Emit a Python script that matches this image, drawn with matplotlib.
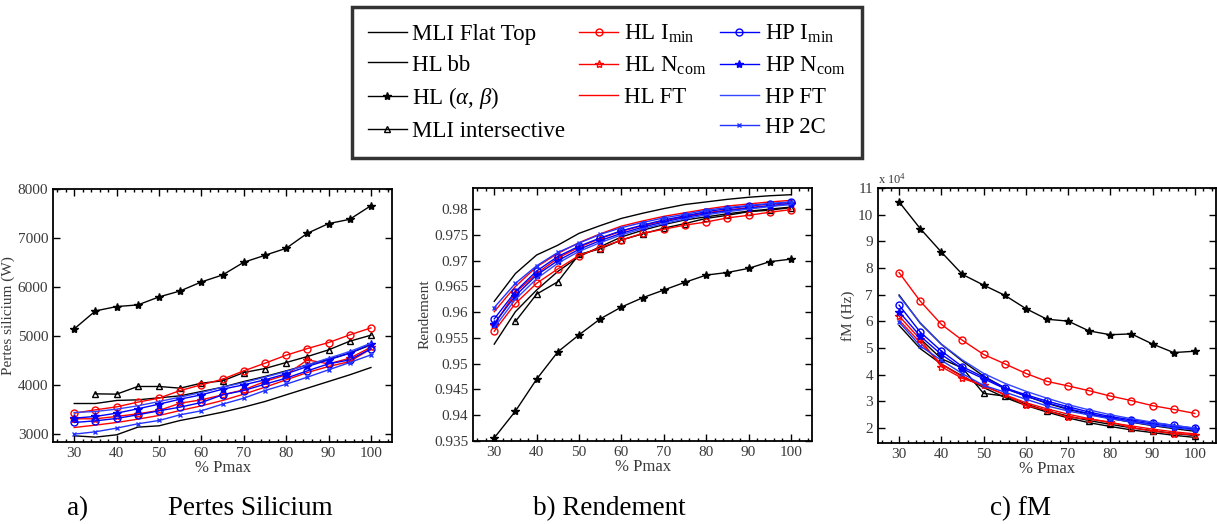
import matplotlib
matplotlib.use("Agg")
import matplotlib.pyplot as plt
from matplotlib.lines import Line2D
from matplotlib.ticker import MultipleLocator, FuncFormatter

plt.rcParams['font.family'] = ['Liberation Serif', 'DejaVu Serif']
plt.rcParams['mathtext.fontset'] = 'custom'
plt.rcParams['mathtext.rm'] = 'Liberation Serif'
plt.rcParams['mathtext.it'] = 'Liberation Serif:italic'

# ---------------------------------------------------------------- data
pmax = [30, 35, 40, 45, 50, 55, 60, 65, 70, 75, 80, 85, 90, 95, 100]
pmax_int = pmax[1:]  # MLI intersective starts at 35 %

# Silicon losses (W)
loss_mli_ft = [3625, 3625, 3687, 3700, 3741, 3782, 3870, 3958, 4074, 4176, 4291, 4413, 4529, 4651, 4821]
loss_hl_bb = [2966, 2939, 2987, 3143, 3170, 3279, 3361, 3449, 3551, 3666, 3802, 3938, 4074, 4210, 4359]
loss_hl_ab = [5147, 5514, 5602, 5636, 5799, 5921, 6105, 6247, 6506, 6648, 6791, 7097, 7294, 7382, 7660]
loss_mli_int = [3822, 3816, 3972, 3972, 3938, 4040, 4087, 4257, 4339, 4461, 4583, 4719, 4896, 5018]
loss_hl_imin = [3428, 3496, 3557, 3653, 3734, 3890, 4006, 4121, 4291, 4447, 4610, 4746, 4868, 5025, 5167]
loss_hl_ncom = [3313, 3313, 3361, 3415, 3483, 3632, 3700, 3802, 3904, 4074, 4210, 4515, 4434, 4549, 4773]
loss_hl_ft = [3136, 3184, 3238, 3306, 3381, 3483, 3578, 3687, 3816, 3958, 4108, 4257, 4380, 4481, 4740]
loss_hp_imin = [3238, 3272, 3320, 3395, 3476, 3551, 3646, 3802, 3890, 4019, 4142, 4291, 4434, 4515, 4740]
loss_hp_ncom = [3327, 3361, 3428, 3517, 3612, 3714, 3802, 3917, 4006, 4108, 4230, 4380, 4515, 4651, 4841]
loss_hp_ft = [3442, 3462, 3510, 3578, 3666, 3755, 3850, 3958, 4053, 4162, 4278, 4413, 4549, 4685, 4855]
loss_hp_2c = [3000, 3048, 3123, 3211, 3279, 3395, 3476, 3612, 3734, 3890, 4019, 4162, 4312, 4461, 4617]

# Efficiency
eff_mli_ft = [0.9538, 0.9601, 0.9643, 0.9679, 0.9708, 0.9727, 0.9746, 0.9759, 0.9770, 0.9779, 0.9785, 0.9791, 0.9796, 0.9800, 0.9804]
eff_hl_bb = [0.9621, 0.9675, 0.9711, 0.9730, 0.9753, 0.9768, 0.9782, 0.9792, 0.9801, 0.9809, 0.9814, 0.9819, 0.9823, 0.9826, 0.9828]
eff_hl_ab = [0.9356, 0.9408, 0.9470, 0.9523, 0.9556, 0.9587, 0.9610, 0.9628, 0.9643, 0.9658, 0.9672, 0.9677, 0.9685, 0.9698, 0.9703]
eff_mli_int = [0.9582, 0.9635, 0.9659, 0.9712, 0.9723, 0.9740, 0.9752, 0.9763, 0.9772, 0.9782, 0.9788, 0.9795, 0.9798, 0.9803]
eff_hl_imin = [0.9563, 0.9617, 0.9656, 0.9684, 0.9710, 0.9725, 0.9740, 0.9753, 0.9761, 0.9769, 0.9775, 0.9783, 0.9788, 0.9794, 0.9799]
eff_hl_ncom = [0.9576, 0.9638, 0.9675, 0.9705, 0.9726, 0.9743, 0.9757, 0.9768, 0.9777, 0.9786, 0.9793, 0.9798, 0.9803, 0.9807, 0.9811]
eff_hl_ft = [0.9601, 0.9650, 0.9688, 0.9714, 0.9735, 0.9752, 0.9767, 0.9777, 0.9786, 0.9793, 0.9800, 0.9806, 0.9810, 0.9814, 0.9817]
eff_hp_imin = [0.9587, 0.9640, 0.9680, 0.9708, 0.9728, 0.9744, 0.9758, 0.9769, 0.9779, 0.9787, 0.9795, 0.9801, 0.9806, 0.9810, 0.9813]
eff_hp_ncom = [0.9578, 0.9632, 0.9672, 0.9700, 0.9722, 0.9739, 0.9753, 0.9765, 0.9775, 0.9784, 0.9791, 0.9797, 0.9802, 0.9806, 0.9810]
eff_hp_ft = [0.9570, 0.9625, 0.9665, 0.9695, 0.9718, 0.9735, 0.9750, 0.9762, 0.9772, 0.9781, 0.9789, 0.9795, 0.9800, 0.9805, 0.9809]
eff_hp_2c = [0.9609, 0.9656, 0.9690, 0.9716, 0.9734, 0.9751, 0.9764, 0.9774, 0.9783, 0.9790, 0.9798, 0.9803, 0.9807, 0.9811, 0.9814]

# Switching frequency fM (Hz)
fm_mli_ft = [69900, 59300, 51400, 45100, 39500, 35100, 32000, 29300, 27000, 25200, 23600, 22200, 20900, 19800, 18800]
fm_hl_bb = [58500, 49800, 44000, 39500, 35200, 31500, 28500, 26000, 23800, 22000, 20600, 19300, 18300, 17300, 16500]
fm_hl_ab = [104800, 94800, 86000, 77600, 73600, 69800, 64800, 60800, 60100, 56400, 55000, 55300, 51500, 48300, 48800]
fm_mli_int = [53500, 46000, 42500, 33000, 32000, 29000, 26500, 24500, 22800, 21400, 20100, 19000, 18000, 17200]
fm_hl_imin = [78300, 67600, 58900, 52900, 47600, 44100, 40500, 37500, 35800, 34000, 32000, 30300, 28400, 27000, 25500]
fm_hl_ncom = [62000, 53300, 43000, 38600, 36000, 32600, 28500, 26600, 24100, 23300, 22300, 20100, 18900, 17900, 17500]
fm_hl_ft = [60500, 52000, 44000, 39200, 35800, 32500, 29500, 27200, 25200, 23500, 22000, 20800, 19600, 18600, 17800]
fm_hp_imin = [66100, 56000, 48900, 43000, 39100, 35100, 32500, 30100, 28000, 26000, 24300, 23100, 22000, 21000, 19900]
fm_hp_ncom = [63600, 54500, 47600, 42200, 38500, 34800, 32000, 29500, 27300, 25400, 23900, 22600, 21500, 20500, 19500]
fm_hp_ft = [69500, 59500, 51500, 45500, 40500, 36800, 33800, 31200, 28800, 26800, 25000, 23500, 22200, 21000, 20000]
fm_hp_2c = [59800, 50800, 45400, 40400, 36000, 33500, 30800, 28300, 26400, 24900, 23500, 22300, 21100, 20100, 19300]

legend_labels = ['MLI Flat Top', 'HL bb', r'HL ($\alpha$, $\beta$)', 'MLI intersective',
                 r'HL I$_{\mathrm{min}}$', r'HL N$_{\mathrm{com}}$', 'HL FT',
                 r'HP I$_{\mathrm{min}}$', r'HP N$_{\mathrm{com}}$', 'HP FT', 'HP 2C']
panel_titles = ['a)', 'Pertes Silicium', 'b) Rendement', 'c) fM']

# ---------------------------------------------------------------- styles
BLUE = '#0000ff'
RED = '#ff0000'
styles = [
    dict(color='black', marker=None),
    dict(color='black', marker=None),
    dict(color='black', marker='*', ms=6, mfc='black'),
    dict(color='black', marker='^', ms=5, mfc='none'),
    dict(color=RED, marker='o', ms=5, mfc='none'),
    dict(color=RED, marker='*', ms=6, mfc='none'),
    dict(color=RED, marker=None),
    dict(color=BLUE, marker='o', ms=5, mfc='none'),
    dict(color=BLUE, marker='*', ms=6, mfc=BLUE),
    dict(color='#3344ff', marker=None),
    dict(color='#2233ff', marker='x', ms=3),
]

fig = plt.figure(figsize=(12.17, 5.24), dpi=100)

axes_rects = [
    [0.0436, 0.1565, 0.2786, 0.4828],
    [0.3887, 0.1584, 0.2786, 0.4828],
    [0.7214, 0.1546, 0.2777, 0.4866],
]

panels = [
    ([loss_mli_ft, loss_hl_bb, loss_hl_ab, loss_mli_int, loss_hl_imin, loss_hl_ncom,
      loss_hl_ft, loss_hp_imin, loss_hp_ncom, loss_hp_ft, loss_hp_2c],
     'Pertes silicium (W)', (2840, 8000), 1000),
    ([eff_mli_ft, eff_hl_bb, eff_hl_ab, eff_mli_int, eff_hl_imin, eff_hl_ncom,
      eff_hl_ft, eff_hp_imin, eff_hp_ncom, eff_hp_ft, eff_hp_2c],
     'Rendement', (0.935, 0.9841), 0.005),
    ([fm_mli_ft, fm_hl_bb, fm_hl_ab, fm_mli_int, fm_hl_imin, fm_hl_ncom,
      fm_hl_ft, fm_hp_imin, fm_hp_ncom, fm_hp_ft, fm_hp_2c],
     'fM (Hz)', (14400, 110000), 10000),
]

TICK_COLOR = '#3a3a3a'
handles = []
for k, (rect, (series, ylabel, ylim, ystep)) in enumerate(zip(axes_rects, panels)):
    ax = fig.add_axes(rect)
    for i, (vals, st) in enumerate(zip(series, styles)):
        xs = pmax_int if i == 3 else pmax
        h, = ax.plot(xs, vals, color=st['color'], lw=1.0,
                     marker=st.get('marker'), ms=st.get('ms', 5),
                     mfc=st.get('mfc', st['color']), mew=1.0)
        if k == 0:
            handles.append(h)
    ax.set_xlim(25, 105)
    ax.set_ylim(*ylim)
    ax.xaxis.set_major_locator(MultipleLocator(10))
    ax.xaxis.set_minor_locator(MultipleLocator(2))
    ax.yaxis.set_major_locator(MultipleLocator(ystep))
    ax.tick_params(which='both', direction='in', top=True, right=True,
                   labelsize=11, labelcolor=TICK_COLOR, width=1.0)
    ax.tick_params(which='major', length=5)
    ax.tick_params(which='minor', length=2.5)
    ax.tick_params(axis='y', which='minor', left=False, right=False)
    for sp in ax.spines.values():
        sp.set_linewidth(1.3)
    ax.set_xlabel('% Pmax', fontsize=12, color=TICK_COLOR, labelpad=0)
    ax.set_ylabel(ylabel, fontsize=11, color=TICK_COLOR, labelpad=2)
    if k == 1:
        ax.yaxis.set_major_formatter(FuncFormatter(lambda v, p: '%g' % round(v, 4)))
    if k == 2:
        ax.yaxis.set_major_formatter(FuncFormatter(lambda v, p: '%g' % round(v / 1e4, 3)))
        ax.text(0.0, 1.005, r'x 10$^{4}$', transform=ax.transAxes, fontsize=9,
                color=TICK_COLOR, ha='left', va='bottom')

# legend: three columns (4 / 3 / 4), blank filler in the middle column
blank = Line2D([], [], color='none')
leg_handles = handles[0:4] + handles[4:7] + [blank] + handles[7:11]
leg_labels = legend_labels[0:4] + legend_labels[4:7] + [''] + legend_labels[7:11]
leg = fig.legend(leg_handles, leg_labels, ncol=3, loc='upper left',
                 bbox_to_anchor=(0.289, 0.987), fontsize=16.5, frameon=True,
                 fancybox=False, edgecolor='black', handlelength=1.7,
                 handletextpad=0.25, columnspacing=0.6, labelspacing=0.42,
                 borderpad=0.7, borderaxespad=0.0)
leg.get_frame().set_linewidth(2.5)

# panel captions
cap_y = 0.03
cap_fs = 19.5
fig.text(78 / 1217, cap_y, panel_titles[0], fontsize=cap_fs, ha='center', va='center')
fig.text(250 / 1217, cap_y, panel_titles[1], fontsize=cap_fs, ha='center', va='center')
fig.text(609 / 1217, cap_y, panel_titles[2], fontsize=cap_fs, ha='center', va='center')
fig.text(1021 / 1217, cap_y, panel_titles[3], fontsize=cap_fs, ha='center', va='center')

fig.savefig('out.png', dpi=100)
